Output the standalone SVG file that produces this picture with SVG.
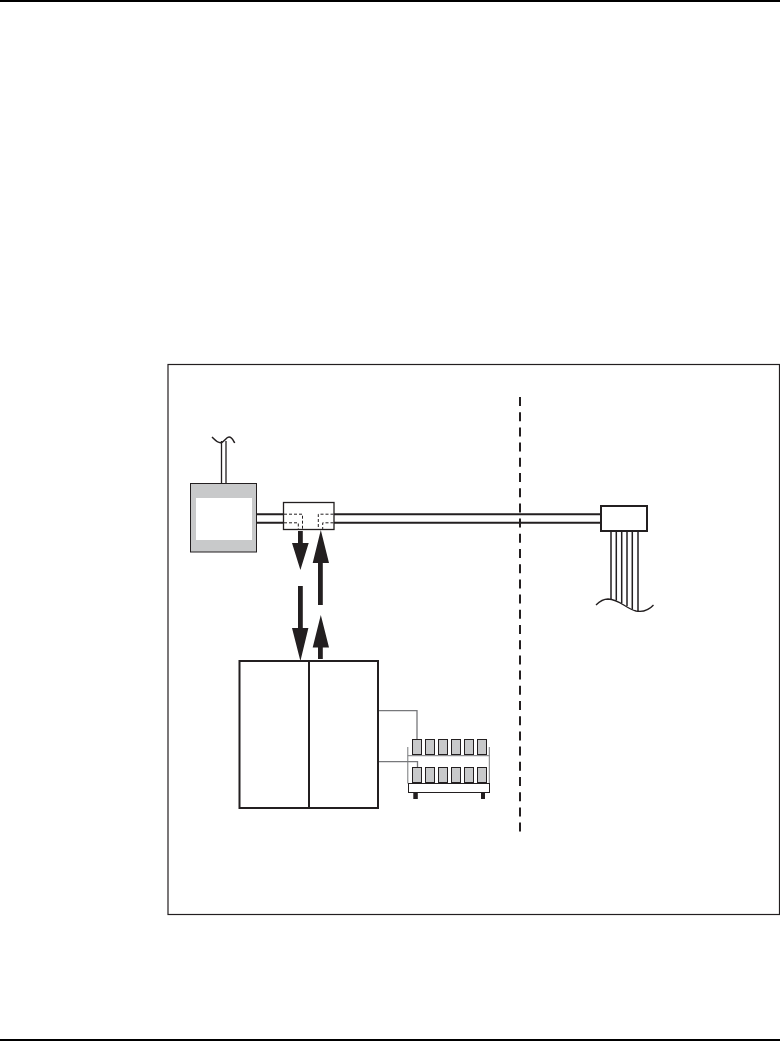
<svg xmlns="http://www.w3.org/2000/svg" width="780" height="1042" viewBox="0 0 780 1042">
<style>
.k{stroke:#231f20;fill:none}
.a{fill:#231f20;stroke:none}
.d{stroke:#231f20;fill:none;stroke-width:1;stroke-dasharray:3 2}
.g{fill:#c8c9ca;stroke:#231f20;stroke-width:1}
.gl{stroke:#77787b;fill:none;stroke-width:1.3}
.r{stroke:#77787b;fill:none;stroke-width:1}
</style>
<rect width="780" height="1042" fill="#fff"/>
<rect x="0" y="0" width="780" height="2" fill="#000"/>
<rect x="0" y="1039" width="780" height="2" fill="#000"/>
<rect class="k" x="168" y="364.500" width="611.500" height="550" stroke-width="1.200"/>
<path class="k" stroke-width="2" stroke-dasharray="9 6.200" d="M520 397V832"/>
<g id="connectors">
<path class="k" stroke-width="1.300" d="M221.500 484V441M226 484V441"/>
<path class="k" stroke-width="1.500" d="M212 437C215 440 217 442.700 220.500 442.700C224 442.700 226 437 229 437C232 437 233 440 234.700 443"/>
<path class="k" stroke-width="2" d="M257 514.200H284M257 522.800H284M334 514.200H601M334 522.800H601"/>
<path class="a" d="M298 531H302.800V543H308.700L300.400 570L292 543H298Z"/>
<path class="a" d="M298 586H302.800V628H308.400L300.400 661L292 628H298Z"/>
<path class="a" d="M318 605H322.800V563H329L320.800 530L312.700 563H318Z"/>
<path class="a" d="M318 659H322.800V647.500H329L320.800 615L312.700 647.500H318Z"/>
<path class="k" stroke-width="1.500" d="M611 531V599.500M616.300 531V600.500M621.700 531V603M627 531V606M632.300 531V609.500M638 531V611.500"/>
<path class="k" stroke-width="1.300" d="M596 605C600 601 604 599 608 599C620 599.500 625 608 636 611C644 612.500 649 610 653.500 605"/>
<path class="gl" d="M378 710.700H417V740M378 761.700H417.500V768"/>
</g>
<g id="source">
<rect class="g" x="190.500" y="483.500" width="66" height="68.500" stroke-width="1.300"/>
<rect x="196" y="498" width="56" height="42" fill="#fff"/>
</g>
<g id="coupler">
<rect class="k" x="283.500" y="502.500" width="50.500" height="27" stroke-width="1.300" fill="#fff"/>
<path class="d" d="M284 514.200H302.500V529M284 522.800H298.300V529M333.500 514.200H318.300V529M333.500 522.800H322.700V529"/>
</g>
<g id="terminal">
<rect x="601" y="506" width="46" height="25" fill="#fff" stroke="#231f20" stroke-width="2"/>
</g>
<g id="cabinet">
<rect x="239.500" y="661" width="138.500" height="147" fill="#fff" stroke="#231f20" stroke-width="2"/>
<path class="k" stroke-width="2" d="M309 661V808"/>
</g>
<g id="rack">
<path class="r" d="M407.800 747V783.500M489.300 747V783.500M407.800 755.700H489.300"/>
<rect x="408.500" y="783.500" width="81" height="9" fill="#fff" stroke="#231f20" stroke-width="1"/>
<rect class="a" x="413.300" y="793" width="4.500" height="6"/>
<rect class="a" x="481" y="793" width="4" height="6"/>
<rect class="g" x="412.500" y="739.500" width="9" height="15"/><rect class="g" x="425.500" y="739.500" width="9" height="15"/><rect class="g" x="438.500" y="739.500" width="9" height="15"/><rect class="g" x="451.500" y="739.500" width="9" height="15"/><rect class="g" x="464.500" y="739.500" width="9" height="15"/><rect class="g" x="477.500" y="739.500" width="9" height="15"/>
<rect class="g" x="412.500" y="767.500" width="9" height="15"/><rect class="g" x="425.500" y="767.500" width="9" height="15"/><rect class="g" x="438.500" y="767.500" width="9" height="15"/><rect class="g" x="451.500" y="767.500" width="9" height="15"/><rect class="g" x="464.500" y="767.500" width="9" height="15"/><rect class="g" x="477.500" y="767.500" width="9" height="15"/>
</g>
</svg>
